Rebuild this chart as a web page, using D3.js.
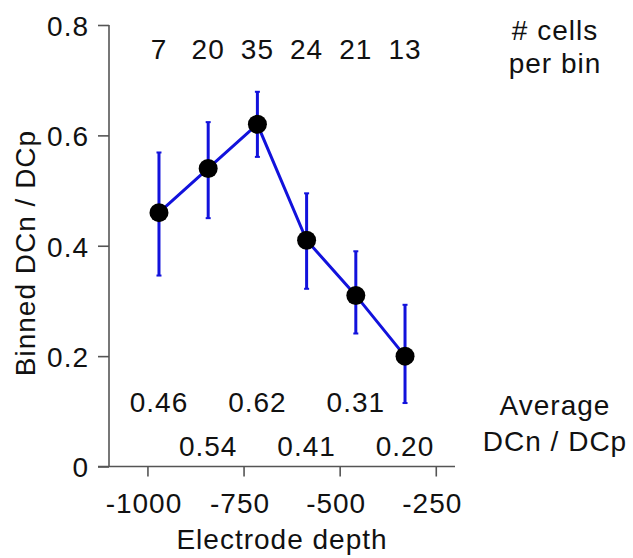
<!DOCTYPE html>
<html>
<head>
<meta charset="utf-8">
<title>Binned DCn / DCp by electrode depth</title>
<script src="https://d3js.org/d3.v7.min.js"></script>
<style>
  body { margin: 0; background: #fff; }
  svg text { font-family: "Liberation Sans", Arial, Helvetica, sans-serif; fill: #111; font-size: 28px; letter-spacing: 1px; }
  .axis path, .axis line { stroke: #555; stroke-width: 1.6; }
</style>
</head>
<body>
<svg id="chart" width="633" height="558"></svg>
<script>
// data
var depth = [-970, -842, -714, -586, -458, -330];
var ratio = [0.46, 0.54, 0.62, 0.41, 0.31, 0.20];
var errHi = [0.569, 0.624, 0.679, 0.495, 0.390, 0.293];
var errLo = [0.346, 0.450, 0.561, 0.322, 0.241, 0.115];
var cells = [7, 20, 35, 24, 21, 13];
var ratioLabels = ["0.46", "0.54", "0.62", "0.41", "0.31", "0.20"];
var xTicks = [-1000, -750, -500, -250];
var yTicks = [0, 0.2, 0.4, 0.6, 0.8];

var svg = d3.select("#chart");
var blue = "#1212dc";

var x = d3.scaleLinear().domain([-1100, -200]).range([109, 455]);
var y = d3.scaleLinear().domain([0, 0.8]).range([466.5, 25]);

// y axis
var yAxis = svg.append("g")
  .attr("class", "axis")
  .attr("transform", "translate(109,0)")
  .call(d3.axisLeft(y).tickValues(yTicks).tickSize(11).tickPadding(9)
    .tickFormat(function(d){ return d === 0 ? "0" : d3.format(".1f")(d); }));
yAxis.attr("font-size", null).attr("font-family", null);
yAxis.select(".domain").attr("d", "M0," + y(0.8) + "V" + y(0));
yAxis.selectAll("text").attr("dy", "0.37em");

// x axis
var xAxis = svg.append("g")
  .attr("class", "axis")
  .attr("transform", "translate(0," + y(0) + ")")
  .call(d3.axisBottom(x).tickValues(xTicks).tickSize(10).tickPadding(17)
    .tickFormat(function(d){ return String(d); }));
xAxis.attr("font-size", null).attr("font-family", null);
xAxis.select(".domain").attr("d", "M98,0H455");
xAxis.selectAll("text").attr("dx", "-4");

// axis titles
svg.append("text")
  .attr("x", 282).attr("y", 549)
  .attr("text-anchor", "middle")
  .text("Electrode depth");

svg.append("text")
  .attr("transform", "translate(35,253) rotate(-90)")
  .attr("text-anchor", "middle")
  .text("Binned DCn / DCp");

// error bars
var bars = svg.append("g");
depth.forEach(function(d, i) {
  bars.append("line")
    .attr("x1", x(d)).attr("x2", x(d))
    .attr("y1", y(errHi[i])).attr("y2", y(errLo[i]))
    .attr("stroke", blue).attr("stroke-width", 3);
  [errHi[i], errLo[i]].forEach(function(v) {
    bars.append("line")
      .attr("x1", x(d) - 2.5).attr("x2", x(d) + 2.5)
      .attr("y1", y(v)).attr("y2", y(v))
      .attr("stroke", blue).attr("stroke-width", 2);
  });
});

// connecting line
var line = d3.line()
  .x(function(d, i){ return x(depth[i]); })
  .y(function(d){ return y(d); });
svg.append("path")
  .datum(ratio)
  .attr("d", line)
  .attr("fill", "none")
  .attr("stroke", blue)
  .attr("stroke-width", 3);

// markers
svg.selectAll(".dot")
  .data(ratio)
  .enter().append("circle")
  .attr("class", "dot")
  .attr("cx", function(d, i){ return x(depth[i]); })
  .attr("cy", function(d){ return y(d); })
  .attr("r", 9.5)
  .attr("fill", "#000");

// cell counts along the top
svg.selectAll(".count")
  .data(cells)
  .enter().append("text")
  .attr("class", "count")
  .attr("x", function(d, i){ return x(depth[i]); })
  .attr("y", 59)
  .attr("text-anchor", "middle")
  .text(function(d){ return d; });

// average labels, staggered in two rows
svg.selectAll(".avg")
  .data(ratioLabels)
  .enter().append("text")
  .attr("class", "avg")
  .attr("x", function(d, i){ return x(depth[i]); })
  .attr("y", function(d, i){ return i % 2 === 0 ? 412 : 456; })
  .attr("text-anchor", "middle")
  .text(function(d){ return d; });

// side notes
var notes = [
  {t: "# cells", y: 40},
  {t: "per bin", y: 73},
  {t: "Average", y: 415},
  {t: "DCn / DCp", y: 451}
];
svg.selectAll(".note")
  .data(notes)
  .enter().append("text")
  .attr("class", "note")
  .attr("x", 555)
  .attr("y", function(d){ return d.y; })
  .attr("text-anchor", "middle")
  .text(function(d){ return d.t; });
</script>
</body>
</html>
